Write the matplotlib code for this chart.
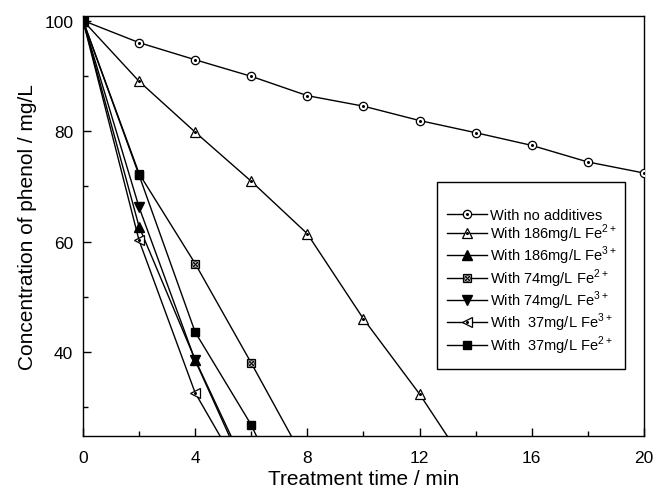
import matplotlib
matplotlib.use('Agg')
import matplotlib.pyplot as plt
from matplotlib.ticker import MultipleLocator
from matplotlib.patches import Rectangle

plt.rcParams['font.family'] = ['Liberation Sans', 'DejaVu Sans']
plt.rcParams['mathtext.fontset'] = 'custom'
plt.rcParams['mathtext.rm'] = 'Liberation Sans'

# treatment time (min)
t_all = [0, 2, 4, 6, 8, 10, 12, 14, 16, 18, 20]

# phenol concentration (mg/L)
no_additives = [100, 96.0, 92.9, 89.9, 86.4, 84.5, 81.9, 79.7, 77.4, 74.4, 72.4]
fe2_186 = [100, 89.0, 79.8, 70.9, 61.4, 46.0, 32.4, 17.0]
fe3_186 = [100, 62.7, 38.6, 17.0]
fe2_74 = [100, 72.3, 56.0, 38.0, 19.5]
fe3_74 = [100, 66.2, 38.5, 16.0]
fe3_37 = [100, 60.2, 32.6, 15.0]
fe2_37 = [100, 72.0, 43.6, 26.8, 5.0]

labels = ['With no additives',
          'With 186mg/L Fe$^{2+}$',
          'With 186mg/L Fe$^{3+}$',
          'With 74mg/L Fe$^{2+}$',
          'With 74mg/L Fe$^{3+}$',
          'With  37mg/L Fe$^{3+}$',
          'With  37mg/L Fe$^{2+}$']

fig = plt.figure(figsize=(6.56, 4.89), dpi=100)
ax = fig.add_axes([0.1265, 0.107, 0.855, 0.858])

lw = 1.0
ms = 6
handles = []


def dot(x, y):
    # small centre dot seen inside the open markers
    h, = ax.plot(x, y, linestyle='none', marker='o', markersize=1.2,
                 color='black', zorder=4)
    return h


# no additives: open circle
h1, = ax.plot(t_all, no_additives, color='black', lw=lw, marker='o', ms=ms,
              mfc='white', mec='black', mew=0.9, zorder=3)
handles.append((h1, dot(t_all, no_additives)))

# 186 Fe2+: open triangle up
x = t_all[:len(fe2_186)]
h2, = ax.plot(x, fe2_186, color='black', lw=lw, marker='^', ms=ms + 1,
              mfc='white', mec='black', mew=0.9, zorder=3)
handles.append((h2, dot(x, fe2_186)))

# 186 Fe3+: filled triangle up
x = t_all[:len(fe3_186)]
h3, = ax.plot(x, fe3_186, color='black', lw=lw, marker='^', ms=ms + 1,
              mfc='black', mec='black', zorder=3)
handles.append(h3)

# 74 Fe2+: crossed square
x = t_all[:len(fe2_74)]
h4, = ax.plot(x, fe2_74, color='black', lw=lw, marker='s', ms=ms,
              mfc='white', mec='black', mew=0.9, zorder=3)
h4b, = ax.plot(x, fe2_74, linestyle='none', marker='x', ms=ms - 1,
               mec='black', mew=0.8, zorder=4)
h4c, = ax.plot(x, fe2_74, linestyle='none', marker='o', ms=ms - 2,
               mfc='none', mec='black', mew=0.7, zorder=4)
handles.append((h4, h4b, h4c))

# 74 Fe3+: filled triangle down
x = t_all[:len(fe3_74)]
h5, = ax.plot(x, fe3_74, color='black', lw=lw, marker='v', ms=ms + 1,
              mfc='black', mec='black', zorder=3)
handles.append(h5)

# 37 Fe3+: open triangle left
x = t_all[:len(fe3_37)]
h6, = ax.plot(x, fe3_37, color='black', lw=lw, marker='<', ms=ms + 1,
              mfc='white', mec='black', mew=0.9, zorder=3)
handles.append((h6, dot(x, fe3_37)))

# 37 Fe2+: filled square
x = t_all[:len(fe2_37)]
h7, = ax.plot(x, fe2_37, color='black', lw=lw, marker='s', ms=ms,
              mfc='black', mec='black', zorder=3)
handles.append(h7)

ax.set_xlim(0, 20)
ax.set_ylim(24.85, 100.8)
ax.xaxis.set_major_locator(MultipleLocator(4))
ax.xaxis.set_minor_locator(MultipleLocator(2))
ax.yaxis.set_major_locator(MultipleLocator(20))
ax.yaxis.set_minor_locator(MultipleLocator(10))
ax.tick_params(which='both', direction='in', top=False, right=False,
               labelsize=12.5, width=1.0)
ax.tick_params(which='major', length=6)
ax.tick_params(which='minor', length=3.5)
ax.tick_params(axis='x', which='major', pad=10)
ax.tick_params(axis='y', which='major', pad=7)
for s in ax.spines.values():
    s.set_linewidth(1.0)

ax.set_xlabel('Treatment time / min', fontsize=15, labelpad=3)
ax.set_ylabel('Concentration of phenol / mg/L', fontsize=15, labelpad=5)

# legend frame drawn separately, Origin style box
box = Rectangle((0.631, 0.159), 0.335, 0.4455, transform=ax.transAxes,
                fill=True, facecolor='white', edgecolor='black', lw=1.0,
                zorder=5)
ax.add_patch(box)

leg = ax.legend(handles, labels, loc='upper left',
                bbox_to_anchor=(0.649, 0.543), fontsize=10.5,
                frameon=False, handlelength=2.74, handletextpad=0.2,
                labelspacing=0.0, borderpad=0, borderaxespad=0)
leg.set_zorder(6)

fig.savefig('out.png', dpi=100)
